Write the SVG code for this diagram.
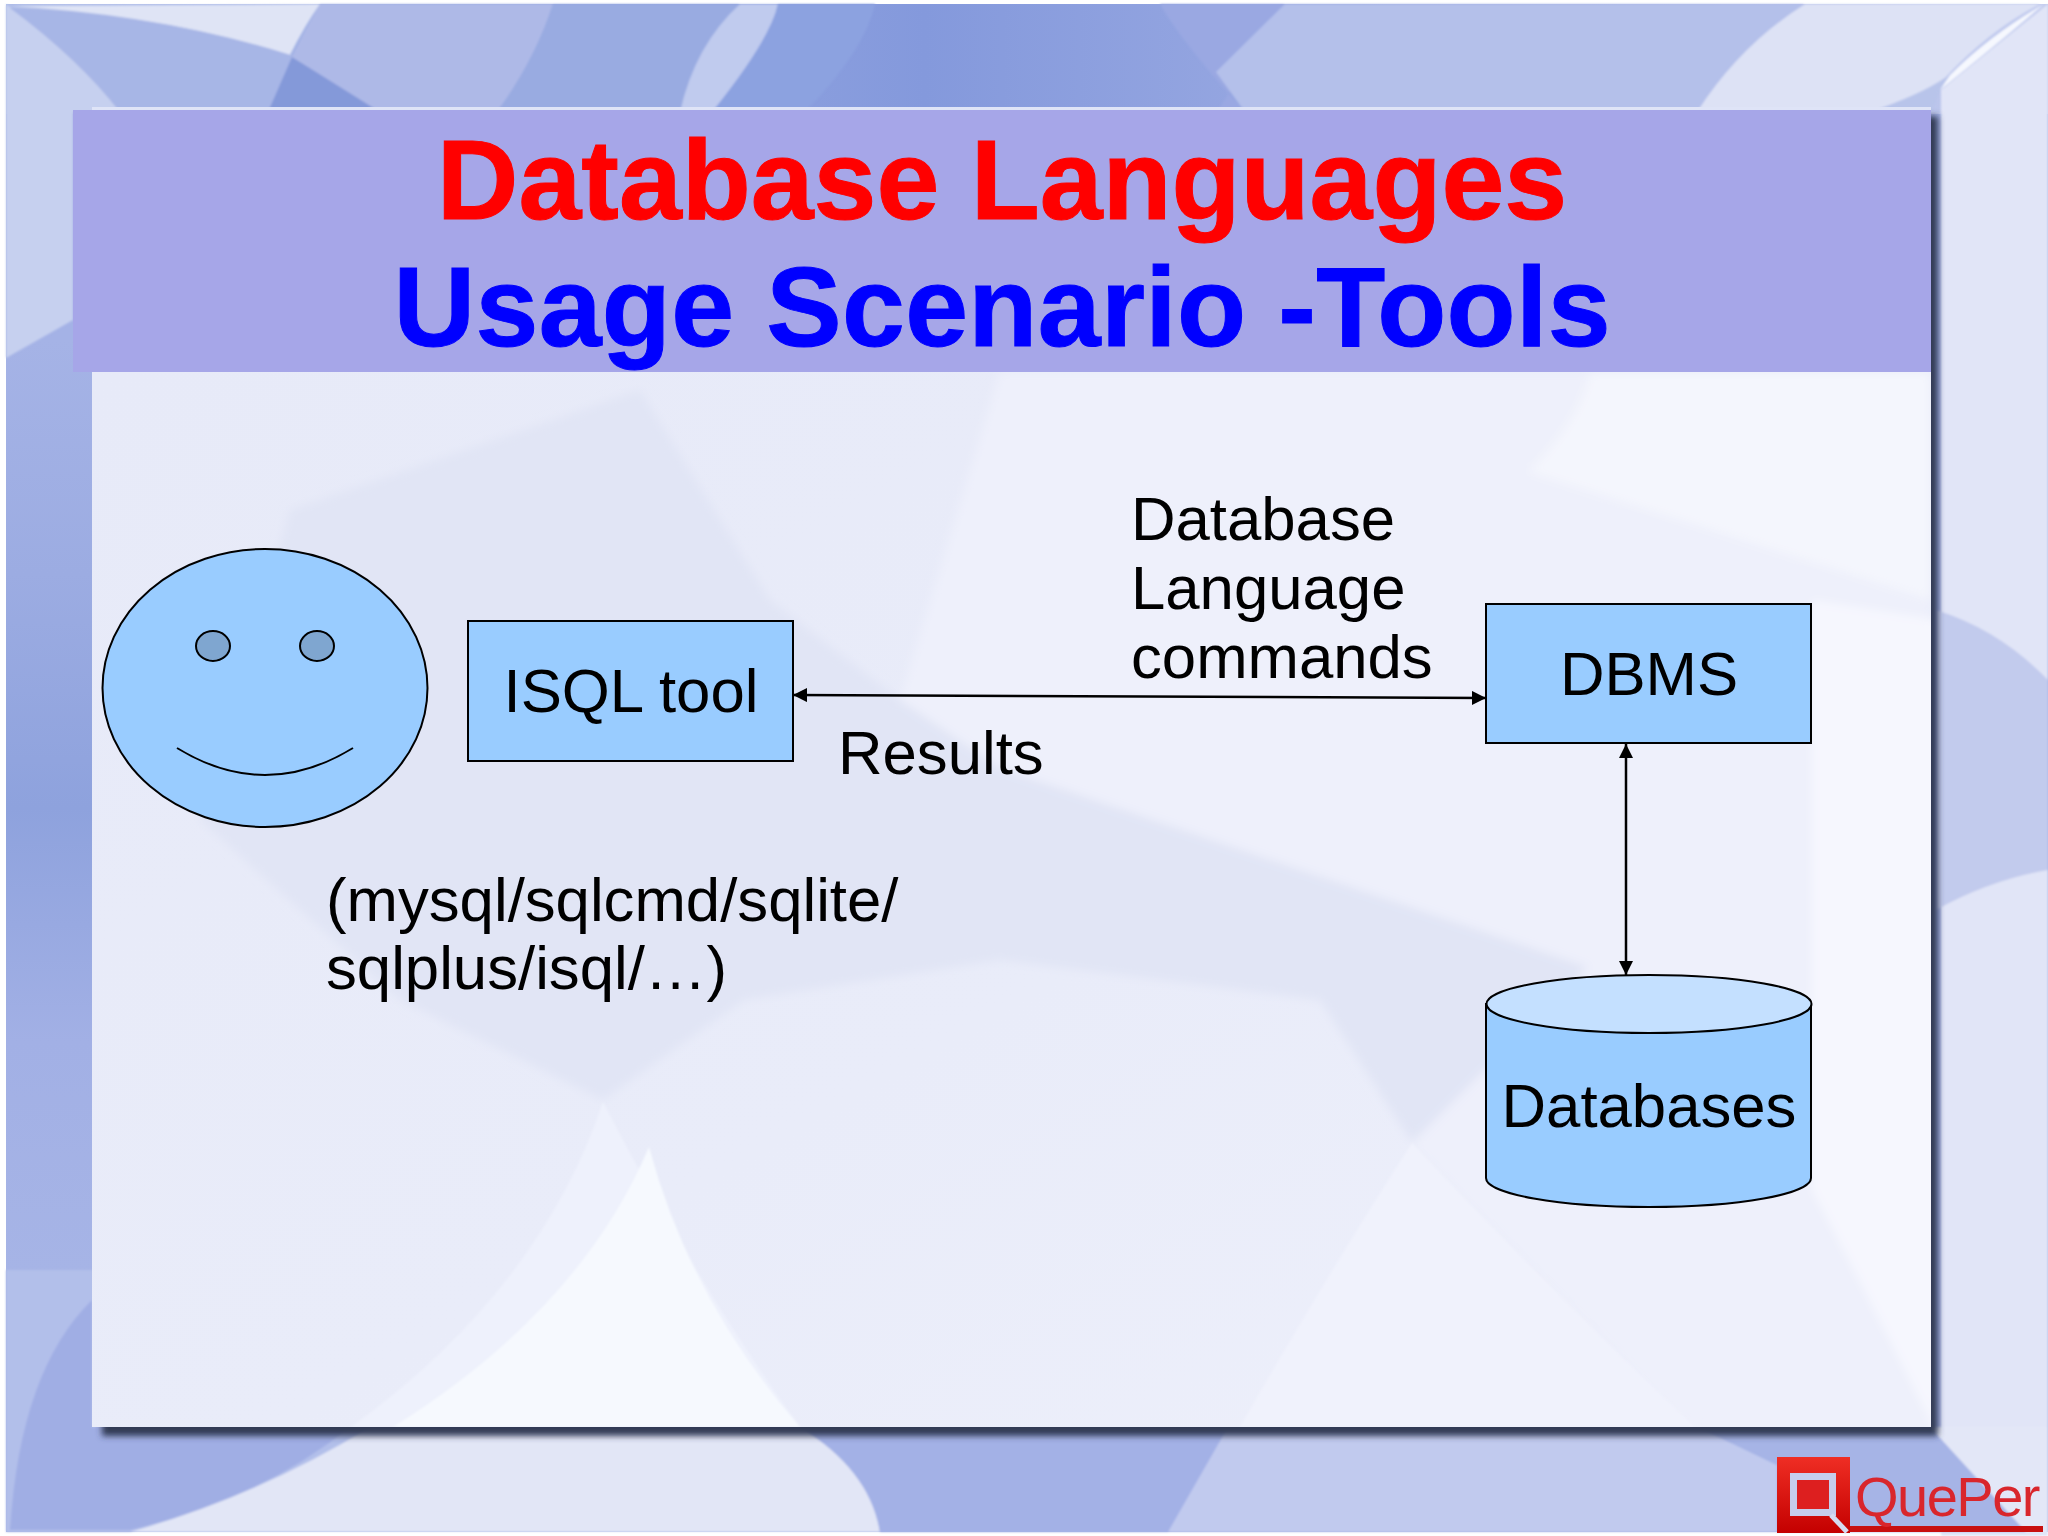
<svg xmlns="http://www.w3.org/2000/svg" width="2048" height="1536" viewBox="0 0 2048 1536">
<style>
.t{font-family:"Liberation Sans",Arial,sans-serif;font-size:61.700px;fill:#000}
.h{font-family:"Liberation Sans",Arial,sans-serif;font-size:113px;font-weight:bold;text-anchor:middle;stroke-width:1}
.m{text-anchor:middle}
.n{fill:#9cf;stroke:#000;stroke-width:2}
.c{fill:none;stroke:#000;stroke-width:2.500;marker-start:url(#a);marker-end:url(#a)}
</style>
<defs>
<marker id="a" viewBox="0 0 14 14" refX="14" refY="7" markerWidth="14" markerHeight="14" markerUnits="userSpaceOnUse" orient="auto-start-reverse"><path d="M0 0L14 7L0 14Z" fill="#000"/></marker>
<linearGradient id="top" x1="0" x2="1" y1="0" y2="0"><stop offset="0" stop-color="#aebce8"/><stop offset=".45" stop-color="#8499dc"/><stop offset=".8" stop-color="#a9b5e6"/><stop offset="1" stop-color="#c2cbee"/></linearGradient>
<linearGradient id="lf" x1="0" x2="0" y1="0" y2="1"><stop offset="0" stop-color="#a5b3e6"/><stop offset=".25" stop-color="#9cace2"/><stop offset=".5" stop-color="#8ea2dd"/><stop offset=".75" stop-color="#a2b0e5"/><stop offset="1" stop-color="#a6b4e6"/></linearGradient>
<linearGradient id="lg" x1="0" x2="0" y1="0" y2="1"><stop offset="0" stop-color="#ef2e24"/><stop offset="1" stop-color="#c40000"/></linearGradient>
<linearGradient id="pb" x1="0" x2="1" y1="0" y2="1"><stop offset="0" stop-color="#e7eaf8"/><stop offset=".55" stop-color="#e9ecf9"/><stop offset="1" stop-color="#eef0fb"/></linearGradient>
<filter id="b" x="-5%" y="-5%" width="110%" height="110%"><feGaussianBlur stdDeviation="3"/></filter>
<filter id="s" x="-5%" y="-5%" width="110%" height="110%"><feGaussianBlur stdDeviation="1"/></filter>
<filter id="p" x="-5%" y="-5%" width="110%" height="110%"><feGaussianBlur stdDeviation="5"/></filter>
<clipPath id="bc"><rect x="92" y="372" width="1839" height="1055"/></clipPath>
</defs>
<g id="background">
<rect width="2048" height="1536" fill="#fff"/>
<rect x="6" y="4" width="2042" height="1528" fill="#a4b2e6"/>
<rect x="6" y="4" width="2042" height="110" fill="url(#top)"/>
<rect x="6" y="340" width="90" height="935" fill="url(#lf)"/>
<g filter="url(#s)">
<path d="M6 4Q80 60 120 112H73V320L6 358Z" fill="#c6d0ef"/>
<path d="M8 6Q160 14 290 55Q305 25 320 4Z" fill="#dfe4f5"/>
<path d="M10 8Q80 60 120 112H380Q340 85 290 55Q160 14 10 8Z" fill="#a7b6e6"/>
<path d="M292 57L268 112H380Q340 85 292 57Z" fill="#8499d9"/>
<path d="M320 4Q305 30 292 57L380 112H497Q535 60 553 4Z" fill="#aeb9e7"/>
<path d="M553 4Q535 60 497 112H680Q695 50 740 4Z" fill="#99abe1"/>
<path d="M740 4Q695 45 680 112H712Q770 50 778 4Z" fill="#c0cbee"/>
<path d="M778 4Q770 40 712 112H805Q865 50 875 4Z" fill="#8ca2e0"/>
<path d="M1160 4Q1180 40 1245 112H1217L1285 4Z" fill="#9aa8e2"/>
<path d="M1285 4L1216 72L1245 112H1697Q1740 45 1805 4Z" fill="#b4c0ea"/>
<path d="M1805 4Q1740 45 1697 112H1870Q1920 95 1945 78Q1990 30 2040 4Z" fill="#dde2f5"/>
<path d="M1945 78Q1920 95 1870 112H1932Q1938 90 1950 75Z" fill="#b8c4ea"/>
<path d="M1941 90L2048 4V1536H1941Z" fill="#e1e5f7"/>
<path d="M1950 75Q1990 35 2044 4Q2000 42 1940 90Z" fill="#f6f8fe"/>
<path d="M1936 610Q2000 630 2048 680V870Q1990 880 1936 910Z" fill="#c2cbed"/>
<path d="M96 1270H6V1532H150Q260 1500 370 1427H96Z" fill="#b2bfea"/>
<path d="M92 1300Q20 1370 10 1530H130Q260 1500 350 1427H92Z" fill="#a0aee4"/>
<path d="M370 1427Q260 1495 130 1532H880Q870 1470 800 1427Z" fill="#e2e6f6"/>
<path d="M800 1427Q870 1470 880 1532H1170L1228 1427Z" fill="#a3b1e6"/>
<path d="M1228 1427L1168 1532H1777V1465L1698 1427Z" fill="#c1caee"/>
<path d="M1698 1427L1777 1465V1532H2040L1930 1427Z" fill="#a6b4e6"/>
<path d="M1930 1427L2026 1532H2048V1427Z" fill="#e3e7f7"/>
</g>
<rect x="102" y="116" width="1836" height="1320" fill="#333a55" filter="url(#b)"/>
<rect x="92" y="107" width="1839" height="4" fill="#dfe4f7"/>
</g>
<g id="panel">
<rect x="92" y="372" width="1839" height="1055" fill="url(#pb)"/>
<g clip-path="url(#bc)">
<g filter="url(#p)">
<path d="M640 390L770 600L900 700L1000 768L1588 967L1412 1143L1320 1000L1000 960L744 1000L603 1100L400 1000L200 820L290 510Z" fill="#e1e5f5"/>
<path d="M1000 372H1590Q1580 420 1528 472L1930 600V1427H1695L1412 1143L1588 967L1000 768L900 700Z" fill="#eef0fb"/>
<path d="M1590 372H1931V600L1528 472Q1580 420 1590 372Z" fill="#f4f6fd"/>
<path d="M1812 600L1940 620V1440Q1860 1280 1812 1190Z" fill="#f6f7fe"/>
</g>
<g filter="url(#s)">
<path d="M1412 1143Q1330 1270 1240 1427H1695Q1550 1290 1412 1143Z" fill="#f0f2fc"/>
<path d="M603 1102Q540 1290 351 1427H800Q700 1290 603 1102Z" fill="#eef1fc"/>
<path d="M649 1147Q580 1310 393 1427H800Q690 1300 649 1147Z" fill="#f6f9fe"/>
</g>
</g>
</g>
<g id="title">
<rect x="73" y="110" width="1858" height="262" fill="#a6a6e8"/>
<text class="h" x="1002" y="219" fill="#f00" stroke="#f00">Database Languages</text>
<text class="h" x="1002" y="346" fill="#00f" stroke="#00f" textLength="1217" lengthAdjust="spacing">Usage Scenario -Tools</text>
</g>
<g id="connectors">
<path class="c" d="M793 695L1486 698"/>
<path class="c" d="M1626 744L1626 975"/>
</g>
<g id="user">
<ellipse class="n" cx="265" cy="688" rx="162.500" ry="139"/>
<ellipse cx="213" cy="646" rx="17" ry="15" fill="#7fa6d0" stroke="#000" stroke-width="2"/>
<ellipse cx="317" cy="646" rx="17" ry="15" fill="#7fa6d0" stroke="#000" stroke-width="2"/>
<path d="M177 748Q265 802 353 748" fill="none" stroke="#000" stroke-width="2"/>
</g>
<g id="isql">
<rect class="n" x="468" y="621" width="325" height="140"/>
<text class="t m" x="631" y="712">ISQL tool</text>
</g>
<g id="dbms">
<rect class="n" x="1486" y="604" width="325" height="139"/>
<text class="t m" x="1649" y="695">DBMS</text>
</g>
<g id="databases">
<path class="n" d="M1486 1004V1178C1486 1194 1559 1207 1649 1207S1811 1194 1811 1178V1004Z"/>
<ellipse cx="1649" cy="1004" rx="162.500" ry="29" fill="#c4e0ff" stroke="#000" stroke-width="2"/>
<text class="t m" x="1649" y="1127">Databases</text>
</g>
<g id="labels">
<text class="t" x="1131" y="540">Database</text>
<text class="t" x="1131" y="609">Language</text>
<text class="t" x="1131" y="678">commands</text>
<text class="t" x="838" y="774">Results</text>
<text class="t" x="326" y="921">(mysql/sqlcmd/sqlite/</text>
<text class="t" x="326" y="989">sqlplus/isql/…)</text>
</g>
<g id="logo">
<rect x="1777" y="1457" width="73" height="76" fill="url(#lg)"/>
<rect x="1793.500" y="1476.500" width="39" height="36" fill="#dd1f1f" stroke="#c6cdeb" stroke-width="7"/>
<path d="M1831 1515L1847 1532" stroke="#d5daf0" stroke-width="5"/>
<rect x="1850" y="1526" width="193" height="6" fill="#c81010"/>
<text x="1855" y="1516" font-family="'Liberation Sans',Arial,sans-serif" font-size="56" fill="#d9262c" letter-spacing="-1.500">QuePer</text>
</g>
</svg>
